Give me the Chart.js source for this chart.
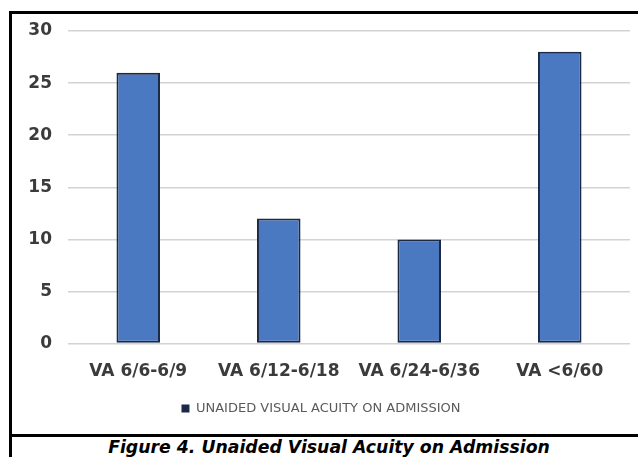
<!DOCTYPE html>
<html>
<head>
<meta charset="utf-8">
<script src="https://cdn.jsdelivr.net/npm/chart.js@4.4.1/dist/chart.umd.min.js"></script>
<style>
    html, body { margin: 0; padding: 0; background: #fff; overflow: hidden; }
    body { width: 638px; height: 457px; position: relative; }
    .frame {
        position: absolute; left: 9px; top: 11px; width: 629px; height: 446px;
        border-left: 3px solid #000; border-top: 3px solid #000;
    }
    .rule { position: absolute; left: 9px; top: 434px; width: 629px; height: 3px; background: #000; }
    .plot { position: absolute; left: 12px; top: 14px; width: 626px; height: 420px; }
    .caption {
        position: absolute; left: 20px; top: 436px; width: 618px; text-align: center;
        font: italic bold 17.3px "DejaVu Sans", sans-serif; line-height: 22px; color: #000;
        white-space: nowrap;
    }
</style>
</head>
<body>
<div class="frame"></div>
<div class="rule"></div>
<div class="plot"><canvas id="chart" width="626" height="420"></canvas></div>
<div class="caption">Figure 4. Unaided Visual Acuity on Admission</div>
<script>
const categories = ['VA 6/6-6/9', 'VA 6/12-6/18', 'VA 6/24-6/36', 'VA <6/60'];
const patients = [26, 12, 10, 28];
const seriesName = 'UNAIDED VISUAL ACUITY ON ADMISSION';
const yTicks = [0, 5, 10, 15, 20, 25, 30];

const labelColor = '#3b3b3b';
const barFill = '#4a79c2';
const barEdge = '#1b2947';

new Chart(document.getElementById('chart'), {
    type: 'bar',
    data: {
        labels: categories,
        datasets: [{
            label: seriesName,
            data: patients,
            backgroundColor: barFill,
            borderColor: barEdge,
            borderWidth: 2,
            borderSkipped: false,
            categoryPercentage: 1,
            barPercentage: 0.31,
        }],
    },
    options: {
        responsive: false,
        animation: false,
        layout: { padding: { top: 17, right: 8, bottom: 9, left: 0 } },
        plugins: {
            legend: {
                position: 'bottom',
                labels: {
                    boxWidth: 8,
                    boxHeight: 8,
                    padding: 10,
                    color: '#5a5a5a',
                    font: { family: 'DejaVu Sans', size: 13 },
                    generateLabels: (chart) =>
                        Chart.defaults.plugins.legend.labels.generateLabels(chart).map((item) => ({
                            ...item,
                            fillStyle: barEdge,
                            strokeStyle: barEdge,
                            lineWidth: 0,
                        })),
                },
            },
            tooltip: { enabled: false },
        },
        scales: {
            x: {
                grid: { display: false },
                border: { display: false },
                ticks: {
                    color: labelColor,
                    padding: 10,
                    font: { family: 'DejaVu Sans', size: 17, weight: 'bold' },
                },
            },
            y: {
                min: 0,
                max: 30,
                afterBuildTicks: (scale) => {
                    scale.ticks = yTicks.map((v) => ({ value: v }));
                },
                afterFit: (scale) => {
                    scale.width = 56;
                    // tick padding would otherwise push the plot top down
                    scale.paddingTop = 0;
                    scale.paddingBottom = 0;
                },
                grid: { color: '#d3d3d3', lineWidth: 1.5, drawTicks: false },
                border: { display: false },
                ticks: {
                    color: labelColor,
                    padding: 16,
                    font: { family: 'DejaVu Sans', size: 17, weight: 'bold' },
                },
            },
        },
    },
});
</script>
</body>
</html>
